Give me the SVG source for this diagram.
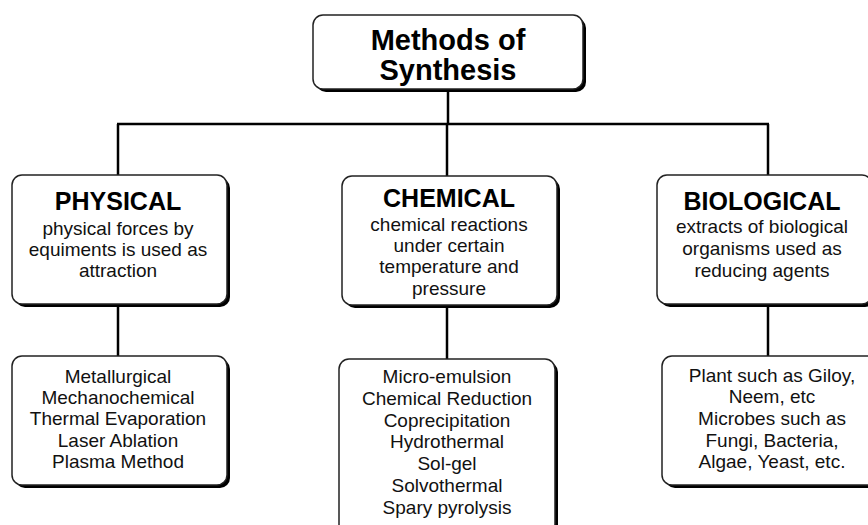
<svg xmlns="http://www.w3.org/2000/svg" width="868" height="525" viewBox="0 0 868 525">
<style>
.sh{fill:#000}
.bx{fill:#fff;stroke:#222;stroke-width:1.5}
.ttl{font-family:"Liberation Sans",Arial,sans-serif;font-weight:bold;fill:#000;text-anchor:middle}
.bd{font-family:"Liberation Sans",Arial,sans-serif;font-size:19px;fill:#111;text-anchor:middle}
.ln{stroke:#000;stroke-width:2.5;fill:none}
</style>
<rect width="868" height="525" fill="#fff"/>
<g id="connectors">
<line class="ln" x1="448" y1="90" x2="448" y2="124"/>
<line class="ln" x1="117" y1="124" x2="769" y2="124"/>
<line class="ln" x1="118" y1="124" x2="118" y2="176"/>
<line class="ln" x1="447" y1="124" x2="447" y2="177"/>
<line class="ln" x1="768" y1="124" x2="768" y2="176"/>
<line class="ln" x1="118" y1="304" x2="118" y2="357"/>
<line class="ln" x1="447" y1="306" x2="447" y2="360"/>
<line class="ln" x1="768" y1="304" x2="768" y2="357"/>
</g>
<g id="root">
<rect class="sh" x="316" y="18" width="270" height="74" rx="10"/>
<rect class="bx" x="313" y="15" width="270" height="74" rx="10"/>
<text class="ttl" font-size="29" x="448" y="50">Methods of</text>
<text class="ttl" font-size="29" x="448" y="80">Synthesis</text>
</g>
<g id="physical">
<rect class="sh" x="15" y="178" width="215" height="129" rx="10"/>
<rect class="bx" x="12" y="175" width="215" height="129" rx="10"/>
<text class="ttl" font-size="25" x="118" y="210">PHYSICAL</text>
<text class="bd" x="118" y="235">physical forces by</text>
<text class="bd" x="118" y="256">equiments is used as</text>
<text class="bd" x="118" y="277">attraction</text>
</g>
<g id="chemical">
<rect class="sh" x="345" y="179" width="215" height="129" rx="10"/>
<rect class="bx" x="342" y="176" width="215" height="129" rx="10"/>
<text class="ttl" font-size="25" x="449" y="207">CHEMICAL</text>
<text class="bd" x="449" y="231">chemical reactions</text>
<text class="bd" x="449" y="252">under certain</text>
<text class="bd" x="449" y="273">temperature and</text>
<text class="bd" x="449" y="295">pressure</text>
</g>
<g id="biological">
<rect class="sh" x="660" y="178" width="215" height="129" rx="10"/>
<rect class="bx" x="657" y="175" width="215" height="129" rx="10"/>
<text class="ttl" font-size="25" x="762" y="210">BIOLOGICAL</text>
<text class="bd" x="762" y="233">extracts of biological</text>
<text class="bd" x="762" y="255">organisms used as</text>
<text class="bd" x="762" y="277">reducing agents</text>
</g>
<g id="physical-methods">
<rect class="sh" x="15" y="359" width="215" height="129" rx="10"/>
<rect class="bx" x="12" y="356" width="215" height="129" rx="10"/>
<text class="bd" x="118" y="383">Metallurgical</text>
<text class="bd" x="118" y="404">Mechanochemical</text>
<text class="bd" x="118" y="425">Thermal Evaporation</text>
<text class="bd" x="118" y="447">Laser Ablation</text>
<text class="bd" x="118" y="468">Plasma Method</text>
</g>
<g id="chemical-methods">
<rect class="sh" x="342" y="362" width="216" height="175" rx="10"/>
<rect class="bx" x="339" y="359" width="216" height="175" rx="10"/>
<text class="bd" x="447" y="383">Micro-emulsion</text>
<text class="bd" x="447" y="405">Chemical Reduction</text>
<text class="bd" x="447" y="427">Coprecipitation</text>
<text class="bd" x="447" y="448">Hydrothermal</text>
<text class="bd" x="447" y="470">Sol-gel</text>
<text class="bd" x="447" y="492">Solvothermal</text>
<text class="bd" x="447" y="514">Spary pyrolysis</text>
</g>
<g id="biological-methods">
<rect class="sh" x="665" y="359" width="215" height="129" rx="10"/>
<rect class="bx" x="662" y="356" width="215" height="129" rx="10"/>
<text class="bd" x="772" y="382">Plant such as Giloy,</text>
<text class="bd" x="772" y="403">Neem, etc</text>
<text class="bd" x="772" y="425">Microbes such as</text>
<text class="bd" x="772" y="447">Fungi, Bacteria,</text>
<text class="bd" x="772" y="468">Algae, Yeast, etc.</text>
</g>
</svg>
